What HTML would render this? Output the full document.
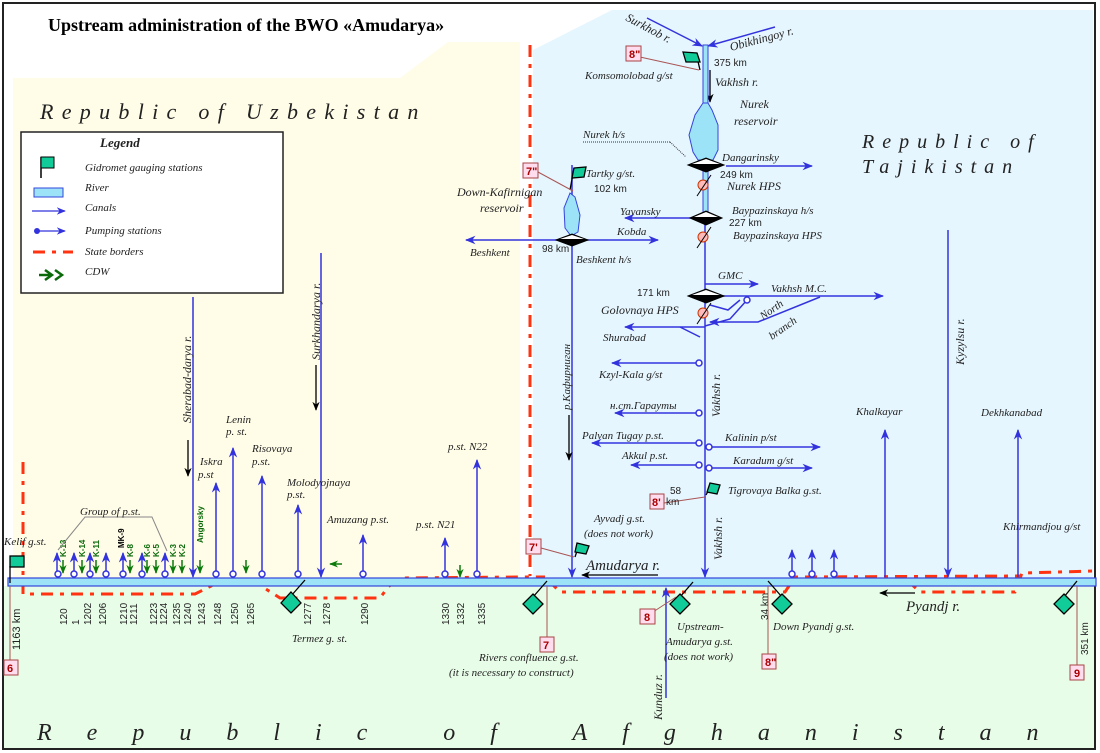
<!DOCTYPE html>
<html><head><meta charset="utf-8"><style>
html,body{margin:0;padding:0;background:#fff;}
svg{display:block;}
text{font-family:"Liberation Serif",serif;font-style:italic;font-size:11px;fill:#222;}
.n{font-family:"Liberation Sans",sans-serif;font-style:normal;font-size:10px;}
.g{font-family:"Liberation Sans",sans-serif;font-style:normal;font-weight:bold;font-size:8px;fill:#0a6a0a;}
.bx{font-family:"Liberation Sans",sans-serif;font-style:normal;font-weight:bold;font-size:11px;fill:#a00;}
</style></head><body>
<svg width="1100" height="753" viewBox="0 0 1100 753" xmlns="http://www.w3.org/2000/svg">
<defs>
<marker id="a" viewBox="0 0 10 10" refX="9" refY="5" markerWidth="7" markerHeight="7" orient="auto"><path d="M0,1 L10,5 L0,9 L3,5z" fill="#3333dd"/></marker>
<marker id="k" viewBox="0 0 10 10" refX="9" refY="5" markerWidth="7" markerHeight="7" orient="auto"><path d="M0,1 L10,5 L0,9 L3,5z" fill="#000"/></marker>
<marker id="gk" viewBox="0 0 10 10" refX="9" refY="5" markerWidth="6" markerHeight="6" orient="auto"><path d="M0,1 L10,5 L0,9 L3,5z" fill="#0a7a0a"/></marker>
</defs>
<rect x="0" y="0" width="1100" height="753" fill="#fff"/>
<path d="M13,78 L400,78 L448,42 L520,42 L520,578 L13,578z" fill="#fffde8"/>
<path d="M533,50 L612,10 L1093,10 L1093,578 L533,578z" fill="#e6f6fe"/>
<rect x="4" y="586" width="1090" height="162" fill="#e8fde8"/>
<rect x="3" y="3" width="1092" height="746" fill="none" stroke="#222" stroke-width="2"/>
<text x="48" y="31" style="font-style:normal;font-weight:bold;font-size:18px;fill:#000">Upstream administration of the BWO «Amudarya»</text>
<text x="40" y="119" style="font-size:22px;letter-spacing:8.3px">Republic of Uzbekistan</text>
<text x="862" y="148" style="font-size:20px;letter-spacing:8px">Republic of</text>
<text x="862" y="173" style="font-size:20px;letter-spacing:8px">Tajikistan</text>
<text x="37" y="740" style="font-size:24px;letter-spacing:35px">Republic of Afghanistan</text>
<rect x="21" y="132" width="262" height="161" fill="#fff" stroke="#222" stroke-width="1.5"/>
<text x="100" y="147" style="font-weight:bold;font-size:13px">Legend</text>
<line x1="41" y1="157" x2="41" y2="178" stroke="#000" stroke-width="1.5"/><rect x="41" y="157" width="13" height="11" fill="#1c9" stroke="#000"/>
<text x="85" y="171">Gidromet gauging stations</text>
<rect x="34" y="188" width="29" height="9" fill="#9de3f7" stroke="#3344dd"/>
<text x="85" y="191">River</text>
<line x1="32" y1="211" x2="65" y2="211" stroke="#3333dd" stroke-width="1.3" marker-end="url(#a)"/>
<text x="85" y="211">Canals</text>
<line x1="37" y1="231" x2="65" y2="231" stroke="#3333dd" stroke-width="1.3" marker-end="url(#a)"/><circle cx="37" cy="231" r="3" fill="#3333dd"/>
<text x="85" y="234">Pumping stations</text>
<line x1="33" y1="252" x2="73" y2="252" stroke="#f31" stroke-width="3" stroke-dasharray="12,7,4,7"/>
<text x="85" y="255">State borders</text>
<path d="M39,275 L52,275 M45,270 L52,275 L45,280 M55,270 L62,275 L55,280" stroke="#0a6a0a" stroke-width="2.5" fill="none"/>
<text x="85" y="275">CDW</text>
<g stroke="#f31" stroke-width="3" fill="none" stroke-dasharray="12,7,4,7">
<line x1="530" y1="45" x2="530" y2="576"/>
<path d="M23,462 L23,594 L195,594 L213,585"/>
<path d="M220,580 L250,579 L280,598 L380,598 L388,587 L400,578 L520,577 L545,577"/>
<path d="M548,580 L560,592 L785,592 L795,577 L1020,576"/>
<path d="M907,580 L920,592 L1015,592 L1022,573 L1094,571"/>
</g>
<rect x="8" y="578" width="1088" height="8" fill="#9de3f7" stroke="#3344dd" stroke-width="1.2"/>
<g stroke="#3333dd" stroke-width="1.5" fill="none">
<line x1="193" y1="297" x2="193" y2="577" marker-end="url(#a)"/>
<line x1="321" y1="253" x2="321" y2="577" marker-end="url(#a)"/>
<line x1="572" y1="165" x2="572" y2="577" marker-end="url(#a)"/>
<line x1="705" y1="45" x2="705" y2="577" marker-end="url(#a)"/>
<line x1="948" y1="230" x2="948" y2="577" marker-end="url(#a)"/>
<line x1="885" y1="577" x2="885" y2="430" marker-end="url(#a)"/>
<line x1="1018" y1="577" x2="1018" y2="430" marker-end="url(#a)"/>
<line x1="666" y1="698" x2="666" y2="588" marker-end="url(#a)"/>
<line x1="647" y1="18" x2="702" y2="46" marker-end="url(#a)"/>
<line x1="775" y1="27" x2="708" y2="46" marker-end="url(#a)"/>
<line x1="726" y1="166" x2="812" y2="166" marker-end="url(#a)"/>
<line x1="700" y1="218" x2="625" y2="218" marker-end="url(#a)"/>
<line x1="580" y1="240" x2="658" y2="240" marker-end="url(#a)"/>
<line x1="562" y1="240" x2="466" y2="240" marker-end="url(#a)"/>
<line x1="705" y1="284" x2="758" y2="284" marker-end="url(#a)"/>
<line x1="720" y1="296" x2="883" y2="296" marker-end="url(#a)"/>
<path d="M820,297 L758,322 L710,322" marker-end="url(#a)"/>
<path d="M740,300 L728,310 L710,305"/>
<path d="M747,300 L730,319 L705,326"/>
<line x1="705" y1="327" x2="625" y2="327" marker-end="url(#a)"/>
<path d="M680,327 L700,337"/>
<line x1="699" y1="363" x2="612" y2="363" marker-end="url(#a)"/>
<line x1="699" y1="413" x2="615" y2="413" marker-end="url(#a)"/>
<line x1="699" y1="443" x2="592" y2="443" marker-end="url(#a)"/>
<line x1="699" y1="465" x2="631" y2="465" marker-end="url(#a)"/>
<line x1="709" y1="447" x2="820" y2="447" marker-end="url(#a)"/>
<line x1="709" y1="468" x2="812" y2="468" marker-end="url(#a)"/>
<line x1="792" y1="574" x2="792" y2="550" marker-end="url(#a)"/>
<line x1="812" y1="574" x2="812" y2="550" marker-end="url(#a)"/>
<line x1="834" y1="574" x2="834" y2="550" marker-end="url(#a)"/>
<line x1="57" y1="574" x2="57" y2="553" marker-end="url(#a)"/>
<line x1="74" y1="574" x2="74" y2="553" marker-end="url(#a)"/>
<line x1="90" y1="574" x2="90" y2="553" marker-end="url(#a)"/>
<line x1="106" y1="574" x2="106" y2="553" marker-end="url(#a)"/>
<line x1="123" y1="574" x2="123" y2="553" marker-end="url(#a)"/>
<line x1="142" y1="574" x2="142" y2="553" marker-end="url(#a)"/>
<line x1="165" y1="574" x2="165" y2="553" marker-end="url(#a)"/>
<line x1="216" y1="574" x2="216" y2="483" marker-end="url(#a)"/>
<line x1="233" y1="574" x2="233" y2="448" marker-end="url(#a)"/>
<line x1="262" y1="574" x2="262" y2="476" marker-end="url(#a)"/>
<line x1="298" y1="574" x2="298" y2="505" marker-end="url(#a)"/>
<line x1="363" y1="574" x2="363" y2="535" marker-end="url(#a)"/>
<line x1="445" y1="574" x2="445" y2="538" marker-end="url(#a)"/>
<line x1="477" y1="574" x2="477" y2="460" marker-end="url(#a)"/>
</g>
<g fill="#fff" stroke="#3333dd" stroke-width="1.5">
<circle cx="58" cy="574" r="3"/><circle cx="74" cy="574" r="3"/><circle cx="90" cy="574" r="3"/><circle cx="106" cy="574" r="3"/><circle cx="123" cy="574" r="3"/><circle cx="142" cy="574" r="3"/><circle cx="165" cy="574" r="3"/>
<circle cx="216" cy="574" r="3"/><circle cx="233" cy="574" r="3"/><circle cx="262" cy="574" r="3"/><circle cx="298" cy="574" r="3"/><circle cx="363" cy="574" r="3"/><circle cx="445" cy="574" r="3"/><circle cx="477" cy="574" r="3"/>
<circle cx="699" cy="363" r="3"/><circle cx="699" cy="413" r="3"/><circle cx="699" cy="443" r="3"/><circle cx="699" cy="465" r="3"/><circle cx="709" cy="447" r="3"/><circle cx="709" cy="468" r="3"/><circle cx="747" cy="300" r="3"/>
<circle cx="792" cy="574" r="3"/><circle cx="812" cy="574" r="3"/><circle cx="834" cy="574" r="3"/>
</g>
<g stroke="#0a7a0a" stroke-width="1.5">
<line x1="63" y1="560" x2="63" y2="573" marker-end="url(#gk)"/><line x1="82" y1="560" x2="82" y2="573" marker-end="url(#gk)"/><line x1="96" y1="560" x2="96" y2="573" marker-end="url(#gk)"/><line x1="130" y1="560" x2="130" y2="573" marker-end="url(#gk)"/><line x1="147" y1="560" x2="147" y2="573" marker-end="url(#gk)"/><line x1="156" y1="560" x2="156" y2="573" marker-end="url(#gk)"/><line x1="173" y1="560" x2="173" y2="573" marker-end="url(#gk)"/><line x1="182" y1="560" x2="182" y2="573" marker-end="url(#gk)"/><line x1="200" y1="560" x2="200" y2="573" marker-end="url(#gk)"/><line x1="246" y1="560" x2="246" y2="573" marker-end="url(#gk)"/><line x1="460" y1="565" x2="460" y2="577" marker-end="url(#gk)"/><line x1="342" y1="564" x2="330" y2="564" marker-end="url(#gk)"/>
</g>
<g class="g"><text class="g" transform="translate(66,557) rotate(-90)">K-13</text><text class="g" transform="translate(85,557) rotate(-90)">K-14</text><text class="g" transform="translate(99,557) rotate(-90)">K-11</text><text class="g" transform="translate(133,557) rotate(-90)">K-8</text><text class="g" style="fill:#000" transform="translate(124,548) rotate(-90)">MK-9</text><text class="g" transform="translate(150,557) rotate(-90)">K-6</text><text class="g" transform="translate(159,557) rotate(-90)">K-5</text><text class="g" transform="translate(176,557) rotate(-90)">K-3</text><text class="g" transform="translate(185,557) rotate(-90)">K-2</text><text class="g" transform="translate(203,543) rotate(-90)">Angorsky</text></g>
<path d="M58,550 L85,517 L152,517 L167,551" stroke="#888" fill="none"/>
<g stroke="#000" stroke-width="1.3">
<line x1="188" y1="440" x2="188" y2="476" marker-end="url(#k)"/>
<line x1="316" y1="365" x2="316" y2="410" marker-end="url(#k)"/>
<line x1="569" y1="415" x2="569" y2="460" marker-end="url(#k)"/>
<line x1="710" y1="70" x2="710" y2="102" marker-end="url(#k)"/>
<line x1="658" y1="575" x2="582" y2="575" marker-end="url(#k)"/>
<line x1="915" y1="593" x2="880" y2="593" marker-end="url(#k)"/>
</g>
<rect x="703" y="45" width="5" height="60" fill="#9de3f7" stroke="#3344dd"/>
<path d="M703,103 L695,115 L689,135 L693,152 L698,160 L713,160 L718,150 L718,125 L712,110 L708,103z" fill="#9de3f7" stroke="#3344dd"/>
<rect x="703" y="160" width="5" height="60" fill="#9de3f7" stroke="#3344dd"/>
<path d="M570,193 L564,208 L565,228 L571,236 L578,232 L580,215 L575,197z" fill="#9de3f7" stroke="#3344dd"/>
<g fill="#000" stroke="#000">
<path d="M688,165 L706,158 L724,165 L706,172z"/><path d="M690,218 L706,211 L722,218 L706,225z"/><path d="M556,240 L572,234 L588,240 L572,246z"/><path d="M688,296 L706,289 L724,296 L706,303z"/>
</g>
<g fill="#fff"><path d="M692,164 L706,159 L720,164z"/><path d="M694,217 L706,212 L718,217z"/><path d="M560,239 L572,235 L584,239z"/><path d="M692,295 L706,290 L720,295z"/></g>
<g fill="#fbb" stroke="#c30"><circle cx="703" cy="185" r="5"/><circle cx="703" cy="237" r="5"/><circle cx="703" cy="313" r="5"/></g>
<g stroke="#000"><line x1="697" y1="196" x2="711" y2="175"/><line x1="697" y1="248" x2="711" y2="227"/><line x1="697" y1="324" x2="711" y2="303"/></g>
<line x1="583" y1="142" x2="670" y2="142" stroke="#333" stroke-dasharray="1,1"/><line x1="670" y1="142" x2="686" y2="157" stroke="#333" stroke-dasharray="1,1"/>
<g stroke="#000" stroke-width="1.3" fill="#1c9">
<line x1="700" y1="70" x2="696" y2="53"/><path d="M683,52 L697,53 L700,62 L686,62z"/>
<line x1="570" y1="190" x2="574" y2="168"/><path d="M574,168 L586,167 L584,177 L572,178z"/>
<line x1="706" y1="495" x2="712" y2="484"/><path d="M710,483 L720,485 L717,494 L707,492z"/>
<line x1="575" y1="557" x2="579" y2="545"/><path d="M577,543 L589,546 L586,554 L575,552z"/>
<line x1="10" y1="583" x2="10" y2="566"/><rect x="10" y="556" width="14" height="11"/>
<line x1="305" y1="580" x2="291" y2="596"/><path d="M291,592 L301,603 L291,613 L281,603z"/>
<line x1="547" y1="581" x2="533" y2="597"/><path d="M533,594 L543,604 L533,614 L523,604z"/>
<line x1="693" y1="582" x2="680" y2="597"/><path d="M680,594 L690,604 L680,614 L670,604z"/>
<line x1="768" y1="581" x2="782" y2="597"/><path d="M782,594 L792,604 L782,614 L772,604z"/>
<line x1="1077" y1="581" x2="1064" y2="597"/><path d="M1064,594 L1074,604 L1064,614 L1054,604z"/>
</g>
<g stroke="#a55" fill="none">
<line x1="699" y1="70" x2="640" y2="57"/><line x1="573" y1="191" x2="538" y2="172"/><line x1="705" y1="497" x2="664" y2="503"/><line x1="574" y1="557" x2="541" y2="548"/>
<line x1="10" y1="586" x2="10" y2="663"/><line x1="547" y1="586" x2="547" y2="637"/><line x1="676" y1="597" x2="653" y2="612"/><line x1="768" y1="586" x2="768" y2="655"/><line x1="1077" y1="586" x2="1077" y2="665"/>
</g>
<g fill="#fde" stroke="#a44">
<rect x="626" y="46" width="15" height="15"/><rect x="523" y="163" width="15" height="15"/><rect x="650" y="494" width="14" height="15"/><rect x="526" y="539" width="15" height="15"/>
<rect x="4" y="660" width="14" height="15"/><rect x="540" y="637" width="14" height="15"/><rect x="640" y="609" width="15" height="15"/><rect x="762" y="654" width="14" height="15"/><rect x="1070" y="665" width="14" height="15"/>
</g>
<g class="bx"><text class="bx" x="629" y="58">8"</text><text class="bx" x="526" y="175">7"</text><text class="bx" x="652" y="506">8'</text><text class="bx" x="529" y="551">7'</text><text class="bx" x="7" y="672">6</text><text class="bx" x="543" y="649">7</text><text class="bx" x="644" y="621">8</text><text class="bx" x="765" y="666">8"</text><text class="bx" x="1074" y="677">9</text></g>
<text x="4" y="545">Kelif g.st.</text>
<text x="80" y="515">Group  of p.st.</text>
<text x="200" y="465">Iskra</text><text x="198" y="478">p.st</text>
<text x="226" y="423">Lenin</text><text x="226" y="435">p. st.</text>
<text x="252" y="452">Risovaya</text><text x="252" y="465">p.st.</text>
<text x="287" y="486">Molodyojnaya</text><text x="287" y="498">p.st.</text>
<text x="327" y="523">Amuzang p.st.</text>
<text x="416" y="528">p.st. N21</text>
<text x="448" y="450">p.st. N22</text>
<text transform="translate(191,423) rotate(-90)" style="font-size:12px">Sherabad-darya r.</text>
<text transform="translate(320,360) rotate(-90)" style="font-size:12px">Surkhandarya r.</text>
<text transform="translate(570,410) rotate(-90)">р.Кафирниган</text>
<text transform="translate(720,417) rotate(-90)" style="font-size:12px">Vakhsh r.</text>
<text transform="translate(722,560) rotate(-90)" style="font-size:12px">Vakhsh r.</text>
<text transform="translate(964,365) rotate(-90)" style="font-size:12px">Kyzylsu r.</text>
<text transform="translate(662,720) rotate(-90)" style="font-size:12px">Kunduz r.</text>
<text transform="translate(625,20) rotate(28)" style="font-size:12px">Surkhob r.</text>
<text transform="translate(731,51) rotate(-15)" style="font-size:12px">Obikhingoy r.</text>
<text x="585" y="79">Komsomolobad g/st</text>
<text class="n" x="714" y="66">375 km</text>
<text x="715" y="86" style="font-size:12px">Vakhsh r.</text>
<text x="740" y="108" style="font-size:12px">Nurek</text><text x="734" y="125" style="font-size:12px">reservoir</text>
<text x="583" y="138">Nurek h/s</text>
<text x="722" y="161">Dangarinsky</text>
<text class="n" x="720" y="178">249 km</text>
<text x="727" y="190" style="font-size:12px">Nurek HPS</text>
<text x="732" y="214">Baypazinskaya h/s</text>
<text class="n" x="729" y="226">227 km</text>
<text x="733" y="239">Baypazinskaya HPS</text>
<text x="620" y="215">Yavansky</text>
<text x="617" y="235">Kobda</text>
<text x="586" y="177">Tartky g/st.</text>
<text class="n" x="594" y="192">102 km</text>
<text x="457" y="196" style="font-size:12px">Down-Kafirnigan</text><text x="480" y="212" style="font-size:12px">reservoir</text>
<text x="470" y="256">Beshkent</text>
<text class="n" x="542" y="252">98 km</text>
<text x="576" y="263">Beshkent h/s</text>
<text x="718" y="279">GMC</text>
<text x="771" y="292">Vakhsh M.C.</text>
<text class="n" x="637" y="296">171 km</text>
<text x="601" y="314" style="font-size:12px">Golovnaya HPS</text>
<text x="603" y="341">Shurabad</text>
<text transform="translate(763,320) rotate(-35)">North</text>
<text transform="translate(772,340) rotate(-35)">branch</text>
<text x="599" y="378">Kzyl-Kala g/st</text>
<text x="610" y="409">н.ст.Гарауты</text>
<text x="582" y="439">Palvan Tugay p.st.</text>
<text x="622" y="459">Akkul p.st.</text>
<text x="725" y="441">Kalinin p/st</text>
<text x="733" y="464">Karadum g/st</text>
<text x="728" y="494">Tigrovaya Balka g.st.</text>
<text class="n" x="670" y="494">58</text><text class="n" x="666" y="505">km</text>
<text x="594" y="522">Ayvadj g.st.</text><text x="584" y="537">(does not work)</text>
<text x="586" y="570" style="font-size:15px">Amudarya r.</text>
<text x="856" y="415">Khalkayar</text>
<text x="981" y="416">Dekhkanabad</text>
<text x="1003" y="530">Khirmandjou g/st</text>
<text x="906" y="611" style="font-size:15px">Pyandj r.</text>
<text x="677" y="630">Upstream-</text><text x="666" y="645">Amudarya g.st.</text><text x="664" y="660">(does not work)</text>
<text x="773" y="630">Down Pyandj g.st.</text>
<text class="n" transform="translate(768,620) rotate(-90)">34 km</text>
<text class="n" transform="translate(1088,655) rotate(-90)">351 km</text>
<text x="479" y="661">Rivers confluence g.st.</text><text x="449" y="676">(it is necessary to construct)</text>
<text x="292" y="642">Termez g. st.</text>
<g class="n">
<text class="n" transform="translate(20,650) rotate(-90)" style="font-size:11px">1163 km</text>
<text class="n" transform="translate(67,625) rotate(-90)">120</text><text class="n" transform="translate(79,625) rotate(-90)">1</text><text class="n" transform="translate(91,625) rotate(-90)">1202</text><text class="n" transform="translate(106,625) rotate(-90)">1206</text><text class="n" transform="translate(127,625) rotate(-90)">1210</text><text class="n" transform="translate(137,625) rotate(-90)">1211</text><text class="n" transform="translate(157,625) rotate(-90)">1223</text><text class="n" transform="translate(167,625) rotate(-90)">1224</text><text class="n" transform="translate(180,625) rotate(-90)">1235</text><text class="n" transform="translate(191,625) rotate(-90)">1240</text><text class="n" transform="translate(205,625) rotate(-90)">1243</text><text class="n" transform="translate(221,625) rotate(-90)">1248</text><text class="n" transform="translate(238,625) rotate(-90)">1250</text><text class="n" transform="translate(254,625) rotate(-90)">1265</text><text class="n" transform="translate(311,625) rotate(-90)">1277</text><text class="n" transform="translate(330,625) rotate(-90)">1278</text><text class="n" transform="translate(368,625) rotate(-90)">1290</text><text class="n" transform="translate(449,625) rotate(-90)">1330</text><text class="n" transform="translate(464,625) rotate(-90)">1332</text><text class="n" transform="translate(485,625) rotate(-90)">1335</text>
</g>
</svg>
</body></html>
